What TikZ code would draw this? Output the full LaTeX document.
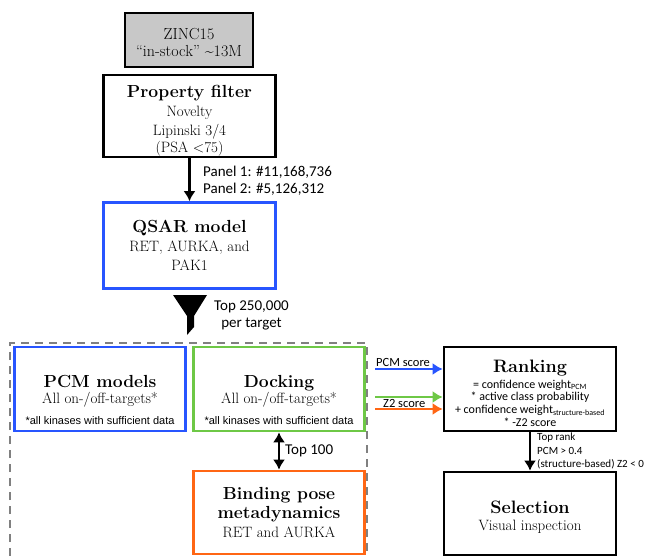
\documentclass[tikz,border=0pt]{standalone}
\usepackage{fontspec}
\newfontfamily\calib{Carlito}
\newfontfamily\arialf{Liberation Sans}
\usetikzlibrary{arrows.meta}
\tikzset{>={Latex[length=10pt,width=12pt]}}

\definecolor{qsarblue}{RGB}{40,85,255}
\definecolor{dockgreen}{RGB}{110,200,70}
\definecolor{mdorange}{RGB}{255,102,20}
\definecolor{zincgray}{RGB}{200,200,200}
\definecolor{dashgray}{RGB}{128,128,128}

\newcommand{\hd}[1]{{\rmfamily\fontsize{17.5}{19}\selectfont\bfseries #1}}
\newcommand{\hdbig}[1]{{\rmfamily\fontsize{18}{19}\selectfont\bfseries #1}}
\newcommand{\note}[1]{{\arialf\fontsize{11}{12}\selectfont #1}}
\newcommand{\body}{\addfontfeatures{FakeBold=0.35}}

\tikzset{
  box/.style={draw, line width=2.6, minimum width=172, minimum height=84, inner sep=0},
  txt/.style={anchor=north, align=center, inner sep=0, font=\body\fontsize{15}{18.5}\selectfont},
  lbl/.style={anchor=west, inner sep=0, align=left,
    font=\calib\fontsize{15}{16.5}\selectfont},
}

\begin{document}
\begin{tikzpicture}[x=1pt,y=-1pt]

\useasboundingbox (0,0) rectangle (647,556);

% pipeline down the left
\node[box, fill=zincgray, minimum width=128, minimum height=54] (zinc) at (189,40) {};
\node[txt, font=\body\fontsize{16}{17}\selectfont] (zinctxt) at (189,28.5) {ZINC15\\``in-stock'' \textasciitilde13M};

\node[box, minimum height=82] (filter) at (189.5,116) {};
\node[txt] (filtertxt) at (189.5,85.5) {\hd{Property filter}\\[0.5pt]Novelty\\Lipinski 3/4\\[-1pt](PSA <75)};

\node[box, draw=qsarblue, minimum height=86] (qsar) at (189.5,245.5) {};
\node[txt] (qsartxt) at (189.5,220.5) {\hd{QSAR model}\\[0.5pt]RET, AURKA, and\\[0.5pt]PAK1};

\draw[->, line width=2.4] (filter) -- (qsar);
\node[lbl, anchor=north west] (panels) at (203,166) {Panel 1: \#11,168,736\\Panel 2: \#5,126,312};

% funnel
\fill (173,295) -- (207,295) -- (194,316) -- (194,327) -- (187,335) -- (187,316) -- cycle;
\node[lbl, align=center, anchor=north west] (top250) at (214,301) {Top 250,000\\per target};

% dashed region
\draw[dashgray, line width=2.4, dash pattern=on 8pt off 6pt] (10,556) -- (10,343) -- (367,343) -- (367,556);

\node[box, draw=qsarblue, minimum width=171] (pcm) at (100,389) {};
\node[txt] (pcmtxt) at (100,375.5) {\hd{PCM models}\\[-2.5pt]All on-/off-targets*\\[2.5pt]\note{*all kinases with sufficient data}};

\node[box, draw=dockgreen, minimum width=171] (dock) at (279,389) {};
\node[txt] (docktxt) at (279,375.5) {\hd{Docking}\\[-2.5pt]All on-/off-targets*\\[2.5pt]\note{*all kinases with sufficient data}};

\node[box, draw=mdorange, minimum width=171, minimum height=83] (bpm) at (279,512.5) {};
\node[txt] (bpmtxt) at (279,487.5) {\hd{Binding pose}\\[0.5pt]\hd{metadynamics}\\[0.5pt]RET and AURKA};

\draw[<->, line width=2.4] (dock) -- (bpm);
\node[lbl] (top100) at (285,451) {Top 100};

% ranking and selection
\node[box, minimum width=172] (rank) at (530,389) {};
\node[txt, font=\calib\fontsize{12}{12.7}\selectfont] (ranktxt) at (530,359.5)
  {\hdbig{Ranking}\\[3.3pt]= confidence weight\textsubscript{PCM}\\* active class probability\\+ confidence weight\textsubscript{structure-based}\\* -Z2 score};

\node[box, minimum width=172, minimum height=83] (sel) at (530,513.5) {};
\node[txt] (seltxt) at (530,500.5) {\hdbig{Selection}\\[-1.5pt]Visual inspection};

\coordinate (pcmtail) at (375,369);
\coordinate (dktail) at (375,397);
\coordinate (mdtail) at (375,409);
\draw[->, qsarblue, line width=2] (pcmtail) -- (pcmtail -| rank.west);
\draw[->, dockgreen, line width=2] (dktail) -- (dktail -| rank.west);
\draw[->, mdorange, line width=2] (mdtail) -- (mdtail -| rank.west);
\node[lbl, font=\calib\fontsize{12.5}{14}\selectfont] (pcmlbl) at (376,362) {PCM score};
\node[lbl, font=\calib\fontsize{12.5}{14}\selectfont] (z2lbl) at (383,403) {Z2 score};

\draw[->, line width=2.4] (rank) -- (sel);
\node[lbl, font=\calib\fontsize{11}{13.5}\selectfont] (toprank) at (537,451) {Top rank\\PCM > 0.4\\(structure-based) Z2 < 0};

\end{tikzpicture}
\end{document}
